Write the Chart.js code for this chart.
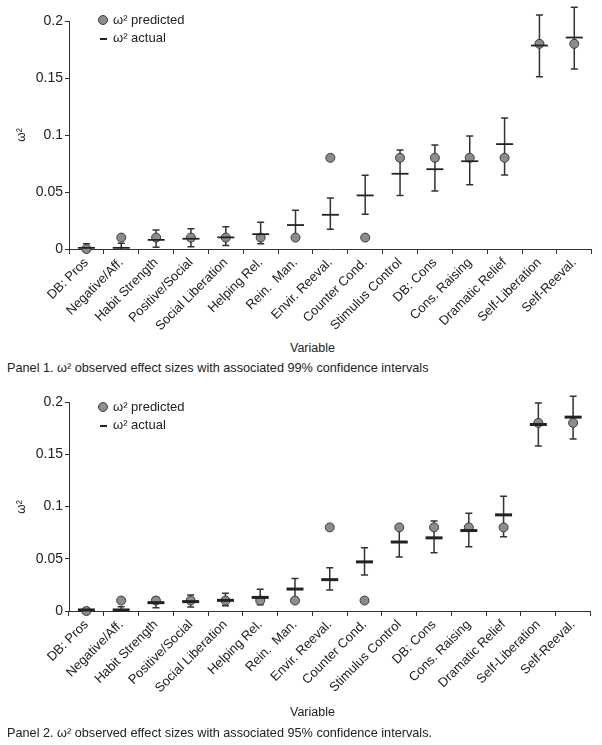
<!DOCTYPE html>
<html>
<head>
<meta charset="utf-8">
<script src="https://cdn.jsdelivr.net/npm/chart.js@4/dist/chart.umd.min.js"></script>
<style>
body{margin:0;background:#fff;font-family:"Liberation Sans",Arial,sans-serif;color:#222;}
#wrap{position:relative;width:602px;height:745px;overflow:hidden;}
canvas{position:absolute;left:0;}
.t{position:absolute;white-space:nowrap;line-height:1;}
.dot{position:absolute;width:8px;height:8px;border-radius:50%;background:#8c8c8c;border:1px solid #3a3a3a;}
.dash{position:absolute;width:7px;height:2px;background:#222;}
.ylab{position:absolute;font-size:12px;transform:rotate(-90deg);transform-origin:center;}
.cap{font-size:12.7px;}
</style>
</head>
<body>
<div id="wrap">
  <canvas id="c1" width="602" height="340" style="top:0"></canvas>
  <canvas id="c2" width="602" height="340" style="top:381px"></canvas>

  <div class="dot" style="left:98px;top:15px"></div>
  <div class="t" style="left:113px;top:13px;font-size:13px">ω² predicted</div>
  <div class="dash" style="left:100px;top:38px"></div>
  <div class="t" style="left:113px;top:31px;font-size:13px">ω² actual</div>
  <div class="ylab" style="left:14px;top:128px">ω²</div>
  <div class="t" style="left:290px;top:342px;font-size:12.5px">Variable</div>
  <div class="t cap" style="left:7px;top:362px">Panel 1. ω² observed effect sizes with associated 99% confidence intervals</div>

  <div class="dot" style="left:98px;top:402px"></div>
  <div class="t" style="left:113px;top:400px;font-size:13px">ω² predicted</div>
  <div class="dash" style="left:100px;top:425px"></div>
  <div class="t" style="left:113px;top:418px;font-size:13px">ω² actual</div>
  <div class="ylab" style="left:14px;top:500px">ω²</div>
  <div class="t" style="left:290px;top:706px;font-size:12.5px">Variable</div>
  <div class="t cap" style="left:7px;top:727px">Panel 2. ω² observed effect sizes with associated 95% confidence intervals.</div>
</div>
<script>
const categories = ["DB: Pros","Negative/Aff.","Habit Strength","Positive/Social","Social Liberation",
  "Helping Rel.","Rein.  Man.","Envir. Reeval.","Counter Cond.","Stimulus Control",
  "DB: Cons","Cons. Raising","Dramatic Relief","Self-Liberation","Self-Reeval."];

const predicted = [0, 0.01, 0.01, 0.01, 0.01, 0.01, 0.01, 0.08, 0.01, 0.08, 0.08, 0.08, 0.08, 0.18, 0.18];
const actual = [0.001, 0.001, 0.008, 0.009, 0.0102, 0.013, 0.021, 0.03, 0.047, 0.066, 0.070, 0.077, 0.092, 0.1785, 0.1855];

const low99 = [0, 0, 0.0015, 0.002, 0.003, 0.0047, 0.008, 0.0173, 0.0304, 0.047, 0.0509, 0.0564, 0.0649, 0.151, 0.158];
const high99 = [0.0047, 0.005, 0.0167, 0.0178, 0.0196, 0.0234, 0.034, 0.0447, 0.0646, 0.0868, 0.0912, 0.0991, 0.1149, 0.2053, 0.212];

const low95 = [0, 0, 0.0032, 0.0038, 0.005, 0.006, 0.011, 0.0201, 0.0344, 0.0517, 0.0558, 0.0616, 0.0711, 0.158, 0.1646];
const high95 = [0.0026, 0.004, 0.0128, 0.0153, 0.0169, 0.0207, 0.031, 0.0414, 0.0606, 0.08, 0.0861, 0.0935, 0.1098, 0.199, 0.2055];

const yTicks = [0, 0.05, 0.1, 0.15, 0.2];

Chart.defaults.font.family = "'Liberation Sans', Arial, sans-serif";
Chart.defaults.color = "#222";

// vertical CI lines with caps, placed through the chart's own scales
const errorBars = {
  id: "errorBars",
  beforeDatasetsDraw(chart, args, opts){
    const {ctx, scales:{x, y}} = chart;
    ctx.save();
    ctx.strokeStyle = "#333";
    ctx.lineWidth = 1.5;
    opts.low.forEach((lo, i) => {
      const px = x.getPixelForValue(i);
      const y1 = y.getPixelForValue(lo);
      const y2 = y.getPixelForValue(opts.high[i]);
      ctx.beginPath();
      ctx.moveTo(px, y1); ctx.lineTo(px, y2);
      ctx.moveTo(px - 3.5, y2); ctx.lineTo(px + 3.5, y2);
      if(lo > 0){ ctx.moveTo(px - 3.5, y1); ctx.lineTo(px + 3.5, y1); }
      ctx.stroke();
    });
    ctx.restore();
  }
};

function drawPanel(id, low, high, markW, padTop, xH){
  return new Chart(document.getElementById(id), {
    type: "line",
    data: {
      labels: categories,
      datasets: [
        {label: "ω² actual", data: actual, showLine: false, pointStyle: "line",
         pointRadius: 8.5, pointHoverRadius: 8.5, pointBorderWidth: markW,
         pointBorderColor: "#222", borderColor: "#222", clip: false},
        {label: "ω² predicted", data: predicted, showLine: false, pointStyle: "circle",
         pointRadius: 4.5, pointHoverRadius: 4.5, pointBackgroundColor: "#8c8c8c",
         pointBorderColor: "#3a3a3a", pointBorderWidth: 1, clip: false}
      ]
    },
    options: {
      responsive: false,
      animation: false,
      layout: {padding: {top: padTop, right: 9, left: 0, bottom: 0}},
      plugins: {
        legend: {display: false},
        tooltip: {enabled: false},
        errorBars: {low: low, high: high}
      },
      scales: {
        x: {
          type: "category",
          offset: true,
          grid: {offset: true, drawOnChartArea: false, tickLength: 5, color: "#333"},
          border: {color: "#333", width: 1},
          ticks: {minRotation: 45, maxRotation: 45, autoSkip: false, padding: 1, font: {size: 13}},
          afterFit: s => { s.height = xH; }
        },
        y: {
          min: 0, max: 0.2,
          afterBuildTicks: s => { s.ticks = yTicks.map(v => ({value: v})); },
          grid: {drawOnChartArea: false, tickLength: 4, color: "#333"},
          border: {color: "#333", width: 1},
          ticks: {padding: 2, font: {size: 14}, callback: v => String(Number(v.toFixed(2)))},
          afterFit: s => { s.width = 69; }
        }
      }
    },
    plugins: [errorBars]
  });
}

drawPanel("c1", low99, high99, 1.8, 21, 91);
drawPanel("c2", low95, high95, 3, 21, 110);
</script>
</body>
</html>
